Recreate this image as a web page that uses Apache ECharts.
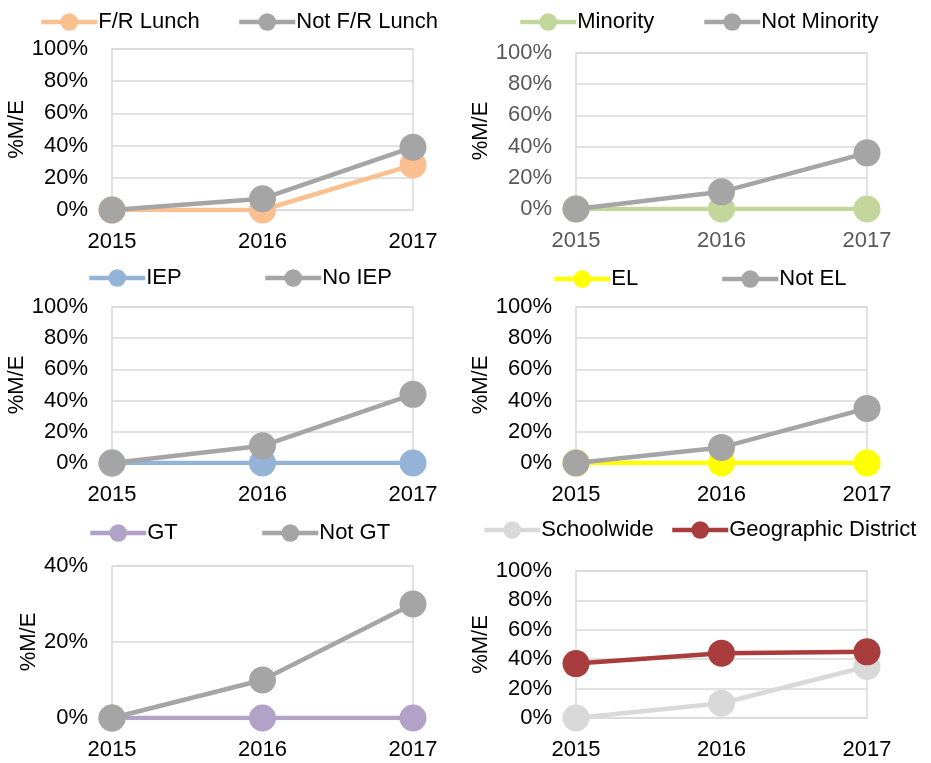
<!DOCTYPE html>
<html>
<head>
<meta charset="utf-8">
<script src="https://cdn.jsdelivr.net/npm/echarts@6/dist/echarts.min.js"></script>
<style>
html,body{margin:0;padding:0;background:#fff;}
#c{width:931px;height:763px;}
</style>
</head>
<body>
<div id="c"></div>
<script>
// ---- data ----
const years = ['2015', '2016', '2017'];
const frLunch = [0, 0, 28];
const notFrLunch = [0, 7, 39];
const minority = [0, 0, 0];
const notMinority = [0, 11, 36];
const iep = [0, 0, 0];
const noIep = [0, 11, 44];
const el = [0, 0, 0];
const notEl = [0, 10, 35];
const gt = [0, 0, 0];
const notGt = [0, 10, 30];
const schoolwide = [0, 10, 35];
const district = [37, 44, 45];
const yMax = [100, 100, 100, 100, 40, 100];

const FONT = "'Liberation Sans', Arial, sans-serif";
const GRAY = '#a5a5a5';

const panels = [
  {grid: {left: 112, top: 49, width: 301, height: 161}, tick: '#000',
   series: [{name: 'F/R Lunch', data: frLunch, color: '#fac090'}, {name: 'Not F/R Lunch', data: notFrLunch, color: GRAY}],
   legends: [{left: 39, top: 10}, {left: 237, top: 10}]},
  {grid: {left: 576, top: 53, width: 291, height: 156}, tick: '#595959',
   series: [{name: 'Minority', data: minority, color: '#c3d69b'}, {name: 'Not Minority', data: notMinority, color: GRAY}],
   legends: [{left: 518, top: 10}, {left: 702, top: 10}]},
  {grid: {left: 112, top: 307, width: 301, height: 156}, tick: '#000',
   series: [{name: 'IEP', data: iep, color: '#95b3d7'}, {name: 'No IEP', data: noIep, color: GRAY}],
   legends: [{left: 87, top: 266}, {left: 263, top: 266}]},
  {grid: {left: 576, top: 307, width: 291, height: 156}, tick: '#000',
   series: [{name: 'EL', data: el, color: '#ffff00'}, {name: 'Not EL', data: notEl, color: GRAY}],
   legends: [{left: 552, top: 267}, {left: 720, top: 267}]},
  {grid: {left: 112, top: 566, width: 301, height: 152}, tick: '#000',
   series: [{name: 'GT', data: gt, color: '#b3a2c7'}, {name: 'Not GT', data: notGt, color: GRAY}],
   legends: [{left: 88, top: 521}, {left: 260, top: 521}]},
  {grid: {left: 576, top: 571, width: 291, height: 147}, tick: '#000',
   series: [{name: 'Schoolwide', data: schoolwide, color: '#d9d9d9'}, {name: 'Geographic District', data: district, color: '#a93d3d'}],
   legends: [{left: 482, top: 518}, {left: 670, top: 518}]}
];

const option = {
  animation: false,
  backgroundColor: '#fff',
  textStyle: {fontFamily: FONT},
  grid: [], xAxis: [], yAxis: [], series: [], legend: []
};

panels.forEach((p, i) => {
  option.grid.push(Object.assign({show: true, borderColor: '#d9d9d9', borderWidth: 1.5, backgroundColor: 'transparent'}, p.grid));
  option.xAxis.push({
    type: 'category', gridIndex: i, data: years, boundaryGap: false,
    axisLine: {show: false}, axisTick: {show: false},
    axisLabel: {color: p.tick, fontSize: 22, fontFamily: FONT, margin: 21}
  });
  option.yAxis.push({
    type: 'value', gridIndex: i, min: 0, max: yMax[i], interval: 20,
    name: '%M/E', nameLocation: 'middle', nameGap: i % 2 === 0 ? 68 : 66, nameRotate: 90,
    nameTextStyle: {color: '#000', fontSize: 22, fontFamily: FONT},
    axisLine: {show: false}, axisTick: {show: false},
    axisLabel: {color: p.tick, fontSize: 22, fontFamily: FONT, margin: 24, formatter: '{value}%'},
    splitLine: {lineStyle: {color: '#d9d9d9', width: 1.5}}
  });
  p.series.forEach((s, j) => {
    option.series.push({
      name: s.name, type: 'line', xAxisIndex: i, yAxisIndex: i, data: s.data,
      symbol: 'circle', symbolSize: 27, showSymbol: true,
      itemStyle: {color: s.color}, lineStyle: {color: s.color, width: 4.5},
      z: 2 + j
    });
    option.legend.push({
      data: [s.name], left: p.legends[j].left, top: p.legends[j].top + 1,
      padding: 0, itemWidth: 56, itemHeight: 22, itemGap: 0,
      selectedMode: false,
      lineStyle: {width: 4.5},
      textStyle: {color: '#000', fontSize: 22, fontFamily: FONT, padding: [0, 0, 0, -4]}
    });
  });
});

const chart = echarts.init(document.getElementById('c'), null, {renderer: 'canvas'});
chart.setOption(option);
</script>
</body>
</html>
